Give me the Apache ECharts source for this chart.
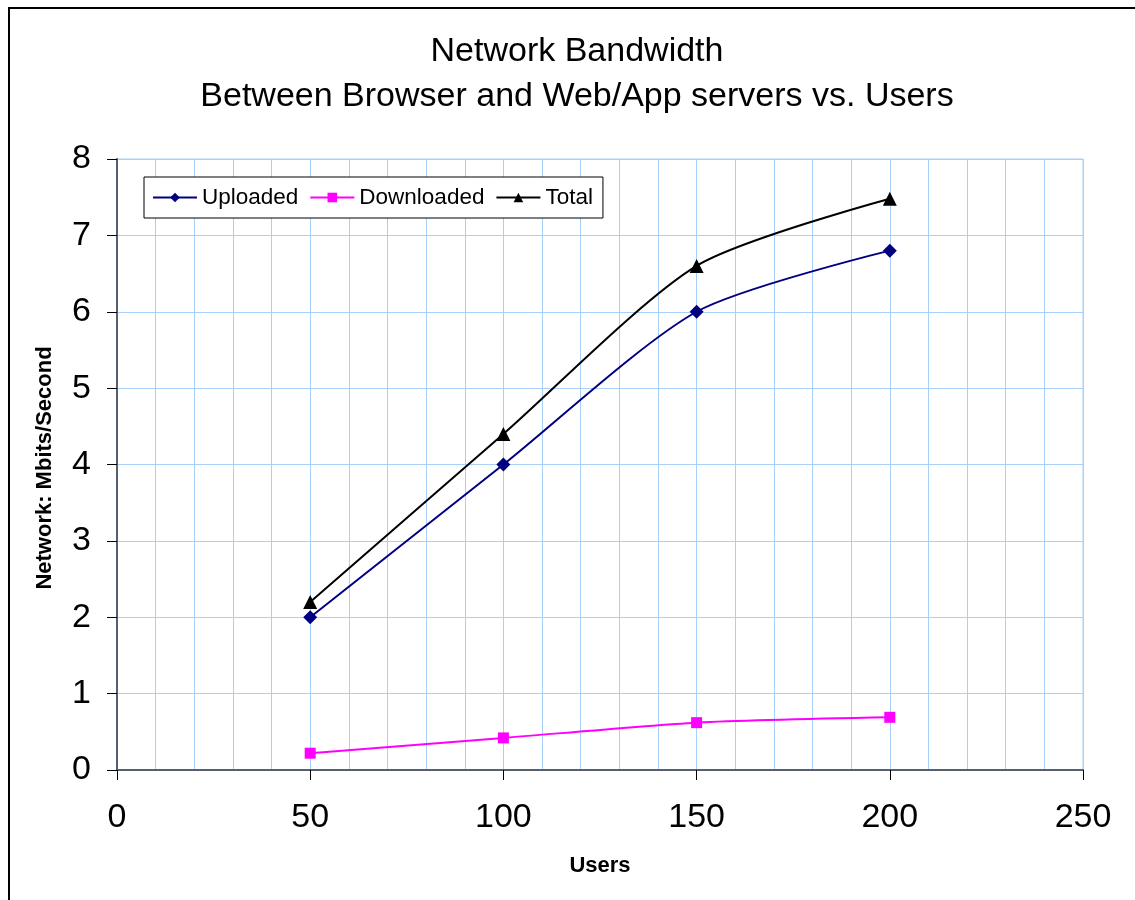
<!DOCTYPE html>
<html><head><meta charset="utf-8">
<script src="https://cdn.jsdelivr.net/npm/echarts@6/dist/echarts.min.js"></script>
<style>html,body{margin:0;padding:0;background:#fff}#c{width:1135px;height:900px}</style>
</head><body><div id="c"></div>
<script>
const users = [50, 100, 150, 200];
const uploaded = [2.0, 4.0, 6.0, 6.8];
const downloaded = [0.22, 0.42, 0.62, 0.69];
const total = [2.2, 4.4, 6.6, 7.48];
const titleLines = ['Network Bandwidth', 'Between Browser and Web/App servers vs. Users'];
const xName = 'Users';
const yName = 'Network: Mbits/Second';

const pair = (xs, ys) => xs.map((x, i) => [x, ys[i]]);
const font = 'Liberation Sans, Arial, sans-serif';
const chart = echarts.init(document.getElementById('c'));
chart.setOption({
  animation: false,
  backgroundColor: '#fff',
  graphic: [
    { type: 'rect', shape: { x: 9, y: 8, width: 1300, height: 1000 }, style: { fill: 'none', stroke: '#000', lineWidth: 2 }, z: 100 },
    { type: 'text', x: 577, y: 52, style: { text: titleLines[0], font: '34px ' + font, fill: '#000', textAlign: 'center', textVerticalAlign: 'middle' } },
    { type: 'text', x: 577, y: 97, style: { text: titleLines[1], font: '34px ' + font, fill: '#000', textAlign: 'center', textVerticalAlign: 'middle' } },
    { type: 'text', x: 600, y: 866, style: { text: xName, font: 'bold 22px ' + font, fill: '#000', textAlign: 'center', textVerticalAlign: 'middle' } },
    { type: 'text', x: 45, y: 468, rotation: Math.PI / 2, style: { text: yName, font: 'bold 22px ' + font, fill: '#000', textAlign: 'center', textVerticalAlign: 'middle' } }
  ],
  grid: { left: 117, right: 52, top: 159, bottom: 130, show: true, borderColor: '#a8d0f8', borderWidth: 1, backgroundColor: '#fff' },
  legend: {
    left: 144, top: 177, itemGap: 11, itemWidth: 44, itemHeight: 12,
    padding: [9, 10, 9, 8],
    borderColor: '#000', borderWidth: 1, backgroundColor: '#fff',
    textStyle: { fontFamily: font, fontSize: 22.5, color: '#000' },
    data: ['Uploaded', 'Downloaded', 'Total']
  },
  xAxis: {
    type: 'value', min: 0, max: 250, interval: 50,
    axisLine: { show: true, onZero: false, lineStyle: { color: '#555f70', width: 2 } },
    axisTick: { show: true, inside: false, length: 10, lineStyle: { color: '#000', width: 1 } },
    axisLabel: { fontFamily: font, fontSize: 34, color: '#000', margin: 31 },
    splitLine: { show: true, lineStyle: { color: '#a8d0f8', width: 1 } },
    minorTick: { show: false, splitNumber: 5 },
    minorSplitLine: { show: true, lineStyle: { color: '#a8d0f8', width: 1 } }
  },
  yAxis: {
    type: 'value', min: 0, max: 8, interval: 1,
    axisLine: { show: true, lineStyle: { color: '#555f70', width: 2 } },
    axisTick: { show: true, inside: false, length: 10, lineStyle: { color: '#000', width: 1 } },
    axisLabel: { fontFamily: font, fontSize: 34, color: '#000', margin: 26 },
    splitLine: { show: true, lineStyle: { color: '#a8d0f8', width: 1 } }
  },
  series: [
    { name: 'Uploaded', type: 'line', data: pair(users, uploaded), smooth: 0.25, symbol: 'diamond', symbolSize: 14,
      lineStyle: { color: '#000080', width: 2 }, itemStyle: { color: '#000080' }, z: 3 },
    { name: 'Downloaded', type: 'line', data: pair(users, downloaded), smooth: 0.25, symbol: 'rect', symbolSize: 11,
      lineStyle: { color: '#ff00ff', width: 2 }, itemStyle: { color: '#ff00ff' }, z: 3 },
    { name: 'Total', type: 'line', data: pair(users, total), smooth: 0.25, symbol: 'triangle', symbolSize: 14,
      lineStyle: { color: '#000', width: 2 }, itemStyle: { color: '#000' }, z: 3 }
  ]
});
</script></body></html>
